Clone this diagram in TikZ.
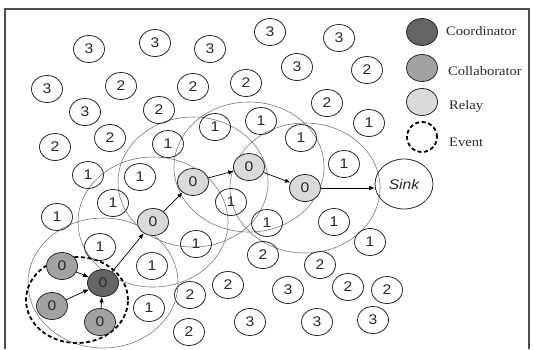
\documentclass[tikz,border=0pt]{standalone}
\usepackage{fontspec}
\setmainfont{Liberation Serif}[FakeStretch=1.12]
\newfontfamily\numfont{Liberation Sans}[FakeStretch=1.12]
\usetikzlibrary{arrows.meta,shapes.geometric}
\definecolor{coordgray}{HTML}{646464}
\definecolor{collabgray}{HTML}{A2A2A2}
\definecolor{relaygray}{HTML}{DADADA}
\definecolor{inkgray}{HTML}{2A2A2A}
\definecolor{rangegray}{HTML}{7A7A7A}
\pgfdeclarelayer{bg}
\pgfsetlayers{bg,main}
\begin{document}
\begin{tikzpicture}[x=1pt,y=-1pt,
  sn/.style={ellipse,draw=inkgray,line width=0.8pt,minimum width=31pt,minimum height=27pt,inner sep=0pt,
    font=\numfont\fontsize{14}{14}\selectfont,text=inkgray},
  coordn/.style={sn,fill=coordgray},
  collabn/.style={sn,fill=collabgray},
  relayn/.style={sn,fill=relaygray},
  eventn/.style={ellipse,draw=black,line width=1.8pt,dash pattern=on 4pt off 2.6pt,inner sep=0pt},
  rangec/.style={draw=rangegray,line width=0.6pt},
  arr/.style={-{Latex[length=5.5pt,width=4.5pt]},line width=0.7pt,draw=black},
  legtext/.style={anchor=west,inner sep=0pt,text=inkgray,font=\fontsize{13}{14}\selectfont}
]
\useasboundingbox (0,0) rectangle (534,349);
\draw[line width=1.3pt,gray!60!black] (5,349) -- (5,9) -- (529,9) -- (529,349);

% event area
\node[eventn,minimum width=102pt,minimum height=86pt] (ev) at (77,300) {};

% plain sensor nodes
\foreach \x/\y/\t [count=\i] in {
  89/49/3, 155/43/3, 210/49/3, 270/32/3, 339/38/3, 47/89/3, 85/112/3, 297/67/3,
  288/290/3, 250/322/3, 317/322/3, 373/320/3,
  121/86/2, 193/87/2, 246/83/2, 367/70/2, 159/110/2, 110/138/2, 55/147/2, 327/103/2,
  263/255/2, 320/265/2, 228/285/2, 190/295/2, 348/287/2, 387/290/2, 189/332/2,
  168/144/1, 215/127/1, 261/121/1, 301/138/1, 369/123/1, 344/164/1, 88/175/1, 140/177/1,
  113/203/1, 57/217/1, 231/202/1, 267/223/1, 334/222/1, 370/242/1, 196/244/1, 100/247/1,
  152/266/1, 149/308/1}
  \node[sn] (n\i) at (\x,\y) {\t};

% relays, collaborators, coordinator
\node[relayn] (r1) at (153,222) {0};
\node[relayn] (r2) at (193,182) {0};
\node[relayn] (r3) at (249,167) {0};
\node[relayn] (r4) at (305,188) {0};
\node[collabn] (c1) at (62,266) {0};
\node[collabn] (c2) at (52,306) {0};
\node[collabn] (c3) at (100,322) {0};
\node[coordn] (co) at (103,283) {0};
\node[ellipse,draw=inkgray,line width=0.8pt,minimum width=58pt,minimum height=50pt,inner sep=0pt,
  font=\numfont\itshape\fontsize{14}{14}\selectfont,text=inkgray] (sink) at (404,184) {Sink};

% communication ranges
\begin{pgfonlayer}{bg}
\fill[white] (0,0) rectangle (534,349);
\foreach \n in {co,r1,r2,r3,r4}
  \draw[rangec] (\n.center) ellipse [x radius=75pt, y radius=65pt];
\end{pgfonlayer}

% arrows
\draw[arr] (c1) -- (co);
\draw[arr] (c2) -- (co);
\draw[arr] (c3) -- (co);
\draw[arr] (co) -- (r1);
\draw[arr] (r1) -- (r2);
\draw[arr] (r2) -- (r3);
\draw[arr] (r3) -- (r4);
\draw[arr] (r4.east) -- (r4.east -| sink.west);

% legend
\node[coordn] (l1) at (422,32) {};
\node[collabn] (l2) at (422,68) {};
\node[relayn] (l3) at (422,102) {};
\node[eventn,minimum width=30pt,minimum height=30pt] (l4) at (422,137) {};
\node[legtext] (t1) at (446,31) {Coordinator};
\node[legtext] (t2) at (448,71) {Collaborator};
\node[legtext] (t3) at (449,106) {Relay};
\node[legtext] (t4) at (449,142) {Event};
\end{tikzpicture}
\end{document}
